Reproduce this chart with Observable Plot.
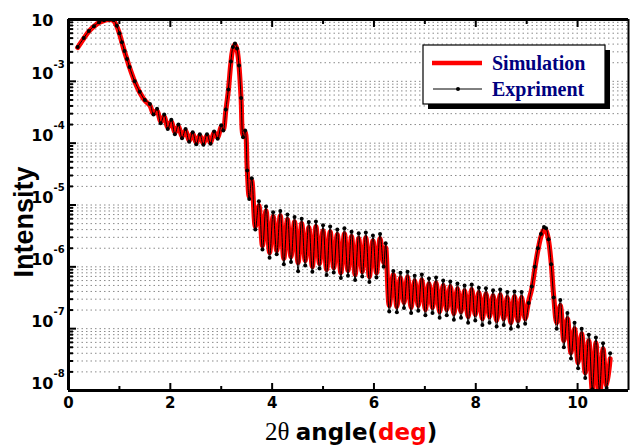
<!DOCTYPE html>
<html><head><meta charset="utf-8">
<script src="https://cdn.jsdelivr.net/npm/d3@7"></script>
<script src="https://cdn.jsdelivr.net/npm/@observablehq/plot@0.6"></script>
<style>body{margin:0;background:#fff} svg{display:block}</style>
</head><body><div id="chart"></div>
<script>
// 2θ angle (deg)
const angle = [0.18,0.3,0.4,0.5,0.6,0.7,0.8,0.88,0.95,1.0,1.05,1.1,1.15,1.2,1.3,1.4,1.5,1.6,1.67,1.74,1.81,1.88,1.95,2.02,2.09,2.16,2.23,2.3,2.37,2.44,2.51,2.58,2.65,2.72,2.79,2.86,2.93,3.0,3.04,3.09,3.14,3.19,3.23,3.27,3.31,3.35,3.39,3.43,3.47,3.51,3.55,3.6,3.67,
3.74,3.81,3.88,3.95,4.02,4.09,4.16,4.23,4.3,4.37,4.44,4.51,4.58,4.65,4.72,4.79,4.86,4.93,5.0,5.07,5.14,5.21,5.28,5.35,5.42,5.49,5.56,5.63,5.7,5.77,5.84,5.91,5.98,6.05,6.12,6.19,6.23,6.3,6.38,
6.45,6.52,6.59,6.66,6.73,6.8,6.87,6.94,7.01,7.08,7.15,7.22,7.29,7.36,7.43,7.5,7.57,7.64,7.71,7.78,7.85,7.92,7.99,8.06,8.13,8.2,8.27,8.34,8.41,8.48,8.55,8.62,8.69,8.76,8.83,8.9,8.97,
9.04,9.1,9.16,9.22,9.28,9.34,9.38,9.43,9.48,9.53,9.59,
9.66,9.73,9.8,9.87,9.94,10.01,10.08,10.15,10.22,10.29,10.36,10.43,10.5,10.57,10.64];

const simulation = [3.52e-3,4.93e-3,6.40e-3,7.71e-3,8.94e-3,9.63e-3,1.0e-2,9.6e-3,7.7e-3,5.94e-3,4.25e-3,3.03e-3,2.25e-3,1.67e-3,9.93e-4,6.59e-4,4.89e-4,4.06e-4,3.01e-4,3.37e-4,2.24e-4,2.69e-4,1.79e-4,2.24e-4,1.49e-4,1.86e-4,1.28e-4,1.60e-4,1.10e-4,1.43e-4,1.02e-4,1.33e-4,9.86e-5,1.33e-4,1.02e-4,1.49e-4,1.23e-4,1.86e-4,1.66e-4,3.37e-4,7.10e-4,2.01e-3,3.40e-3,3.94e-3,3.27e-3,1.74e-3,5.27e-4,1.33e-4,1.54e-4,3.88e-5,1.37e-5,2.48e-5,4.47e-6,
9.77e-6,2.20e-6,8.11e-6,1.70e-6,6.49e-6,1.83e-6,6.73e-6,1.36e-6,5.81e-6,1.46e-6,5.38e-6,1.17e-6,5.00e-6,1.26e-6,4.31e-6,1.01e-6,4.47e-6,1.13e-6,3.85e-6,9.02e-7,3.71e-6,9.70e-7,3.32e-6,8.05e-7,3.44e-6,8.69e-7,3.08e-6,7.48e-7,2.86e-6,8.36e-7,2.96e-6,6.94e-7,2.65e-6,8.05e-7,2.86e-6,1.17e-6,2.05e-6,2.36e-7,7.48e-7,
2.27e-7,6.68e-7,2.64e-7,6.94e-7,2.19e-7,5.98e-7,2.36e-7,6.21e-7,2.03e-7,5.35e-7,2.19e-7,5.55e-7,1.88e-7,4.97e-7,2.03e-7,4.79e-7,1.75e-7,4.44e-7,1.88e-7,4.12e-7,1.56e-7,4.28e-7,1.69e-7,3.83e-7,1.45e-7,3.68e-7,1.56e-7,3.42e-7,1.35e-7,3.55e-7,1.45e-7,3.18e-7,1.25e-7,3.30e-7,1.35e-7,3.18e-7,1.45e-7,
2.84e-7,4.44e-7,9.35e-7,1.83e-6,3.08e-6,4.00e-6,3.85e-6,2.65e-6,1.17e-6,3.42e-7,1.25e-7,
2.36e-7,6.40e-8,1.45e-7,4.09e-8,1.0e-7,2.82e-8,8.30e-8,1.94e-8,6.40e-8,9.9e-9,5.93e-8,6e-9,4.74e-8,1.20e-8,3.27e-8];

const experiment = [3.6e-3,5.0e-3,6.5e-3,7.8e-3,9.0e-3,9.7e-3,1.0e-2,9.8e-3,7.9e-3,6.0e-3,4.3e-3,3.1e-3,2.3e-3,1.7e-3,1.0e-3,6.8e-4,5.0e-4,4.3e-4,2.9e-4,3.6e-4,2.1e-4,2.9e-4,1.7e-4,2.4e-4,1.4e-4,2.0e-4,1.2e-4,1.7e-4,1.05e-4,1.5e-4,9.6e-5,1.4e-4,9.4e-5,1.4e-4,9.8e-5,1.55e-4,1.18e-4,1.95e-4,1.6e-4,3.5e-4,7.4e-4,2.1e-3,3.6e-3,4.1e-3,3.4e-3,1.8e-3,5.4e-4,1.25e-4,1.6e-4,3.6e-5,1.25e-5,2.7e-5,4.0e-6,
1.15e-5,1.9e-6,9.5e-6,1.4e-6,7.6e-6,1.6e-6,8.0e-6,1.1e-6,7.0e-6,1.2e-6,6.4e-6,8.5e-7,6.0e-6,1.05e-6,5.3e-6,8.3e-7,5.4e-6,9.4e-7,4.7e-6,7.4e-7,4.5e-6,8.1e-7,4.0e-6,6.6e-7,4.2e-6,7.2e-7,3.7e-6,6.1e-7,3.5e-6,7.0e-7,3.6e-6,5.7e-7,3.2e-6,6.7e-7,3.4e-6,1.0e-6,2.4e-6,1.9e-7,8.6e-7,
1.85e-7,8.0e-7,2.15e-7,8.3e-7,1.8e-7,7.2e-7,1.95e-7,7.5e-7,1.65e-7,6.5e-7,1.8e-7,6.7e-7,1.5e-7,6.0e-7,1.65e-7,5.8e-7,1.4e-7,5.4e-7,1.5e-7,5.0e-7,1.25e-7,5.2e-7,1.35e-7,4.6e-7,1.15e-7,4.5e-7,1.25e-7,4.2e-7,1.08e-7,4.3e-7,1.15e-7,3.9e-7,1.0e-7,4.0e-7,1.08e-7,3.9e-7,1.2e-7,
2.6e-7,4.8e-7,1.0e-6,2.0e-6,3.4e-6,4.4e-6,4.2e-6,2.8e-6,1.1e-6,3.2e-7,1.0e-7,
2.9e-7,5.0e-8,1.8e-7,3.3e-8,1.25e-7,2.3e-8,1.0e-7,1.6e-8,8.0e-8,1.05e-8,7.2e-8,1.0e-8,5.8e-8,1.1e-8,4.0e-8];

const seriesNames = ["Simulation", "Expriment"];
const xMajorTicks = [0, 2, 4, 6, 8, 10];
const xMinorTicks = [1, 3, 5, 7, 9];
const xTickLabels = ["0", "2", "4", "6", "8", "10"];
const yMajorTicks = [1e-8, 1e-7, 1e-6, 1e-5, 1e-4, 1e-3, 1e-2];
const yLowerTicks = [1e-8, 1e-7, 1e-6, 1e-5, 1e-4, 1e-3];
const yTickExp = ["-8", "-7", "-6", "-5", "-4", "-3"];
const yTopTick = [1e-2];
const yTickBase = "10";

const data = angle.map((x, i) => ({x, sim: simulation[i], exp: experiment[i]}));
const yMinorTicks = [];
for (const m of yLowerTicks) for (let k = 2; k <= 9; k++) yMinorTicks.push(m * k);
const yGrid = yMinorTicks.concat(yLowerTicks.slice(1));

const labelFont = "'DejaVu Sans', Verdana, sans-serif";
const chart = Plot.plot({
  width: 631, height: 446,
  marginLeft: 68, marginRight: 3, marginTop: 19, marginBottom: 56,
  x: {domain: [0, 11], axis: null, label: null},
  y: {type: "log", domain: [1e-8, 1e-2], axis: null, label: null},
  style: {background: "white", color: "black"},
  marks: [
    Plot.ruleY(yGrid, {y: d => d, stroke: "#8a8a8a", strokeWidth: 1, strokeDasharray: "1.5,3"}),
    Plot.line(data, {x: "x", y: "sim", stroke: "#ff0000", strokeWidth: 5, curve: "catmull-rom", clip: true}),
    Plot.line(data, {x: "x", y: "exp", stroke: "black", strokeWidth: 1, curve: "catmull-rom", clip: true}),
    Plot.dot(data, {x: "x", y: "exp", r: 2, fill: "black", stroke: "none", clip: true}),
    // frame lines
    Plot.ruleY([1e-8], {stroke: "black", strokeWidth: 3}),
    Plot.ruleY([1e-2], {stroke: "black", strokeWidth: 3}),
    Plot.ruleX([0], {stroke: "black", strokeWidth: 3}),
    Plot.ruleX([11], {stroke: "black", strokeWidth: 2}),
    // inward ticks
    Plot.axisX(xMajorTicks, {anchor: "bottom", tickSize: -7, strokeWidth: 2, fill: "none", tickFormat: () => "", label: null}),
    Plot.axisX(xMinorTicks, {anchor: "bottom", tickSize: -4, strokeWidth: 2, fill: "none", tickFormat: () => "", label: null}),
    Plot.axisX(xMajorTicks, {anchor: "top", tickSize: -7, strokeWidth: 2, fill: "none", tickFormat: () => "", label: null}),
    Plot.axisX(xMinorTicks, {anchor: "top", tickSize: -4, strokeWidth: 2, fill: "none", tickFormat: () => "", label: null}),
    Plot.axisY(yMajorTicks, {anchor: "left", tickSize: -8, strokeWidth: 2, fill: "none", tickFormat: () => "", label: null}),
    Plot.axisY(yMinorTicks, {anchor: "left", tickSize: -5, strokeWidth: 2, fill: "none", tickFormat: () => "", label: null}),
    // tick labels
    Plot.text(xMajorTicks, {x: d => d, text: (d, i) => xTickLabels[i], frameAnchor: "bottom", dy: 17,
      fontFamily: labelFont, fontWeight: "bold", fontSize: 15, fill: "black"}),
    Plot.text(yLowerTicks, {y: d => d, text: () => yTickBase, frameAnchor: "left", textAnchor: "end",
      dx: -15, dy: -7, fontFamily: labelFont, fontWeight: "bold", fontSize: 16, fill: "black"}),
    Plot.text(yTopTick, {y: d => d, text: () => yTickBase, frameAnchor: "left", textAnchor: "end",
      dx: -15, dy: 1, fontFamily: labelFont, fontWeight: "bold", fontSize: 16, fill: "black"}),
    Plot.text(yLowerTicks, {y: d => d, text: (d, i) => yTickExp[i], frameAnchor: "left", textAnchor: "start",
      dx: -15, dy: -17, fontFamily: labelFont, fontWeight: "bold", fontSize: 10, fill: "black"})
  ]
});
document.getElementById("chart").appendChild(chart);

const svg = d3.select(chart);

// y-axis title
svg.append("text")
  .attr("transform", "translate(33,222) rotate(-90)")
  .attr("text-anchor", "middle")
  .attr("font-family", "'Liberation Sans', Arial, sans-serif")
  .attr("font-weight", "bold").attr("font-size", 27).attr("fill", "black")
  .text("Intensity");

// x-axis title
const xt = svg.append("text").attr("x", 265).attr("y", 440).attr("fill", "black").attr("text-anchor", "start");
xt.append("tspan").attr("font-family", "'Liberation Serif', 'Times New Roman', serif").attr("font-size", 25).text("2θ ");
xt.append("tspan").attr("font-family", labelFont).attr("font-weight", "bold").attr("font-size", 23).text("angle(");
xt.append("tspan").attr("font-family", labelFont).attr("font-weight", "bold").attr("font-size", 23).attr("fill", "#ff0000").text("deg");
xt.append("tspan").attr("font-family", labelFont).attr("font-weight", "bold").attr("font-size", 23).text(")");

// legend
const lg = svg.append("g").attr("text-anchor", "start");
lg.append("rect").attr("x", 428).attr("y", 50).attr("width", 182).attr("height", 59).attr("fill", "black");
lg.append("rect").attr("x", 423).attr("y", 45).attr("width", 182).attr("height", 59).attr("fill", "white").attr("stroke", "black").attr("stroke-width", 1.2);
lg.append("line").attr("x1", 432).attr("x2", 482).attr("y1", 63).attr("y2", 63).attr("stroke", "#ff0000").attr("stroke-width", 4.5);
lg.append("line").attr("x1", 433).attr("x2", 482).attr("y1", 89).attr("y2", 89).attr("stroke", "black").attr("stroke-width", 1);
lg.append("circle").attr("cx", 458).attr("cy", 89).attr("r", 2).attr("fill", "black");
seriesNames.forEach((name, i) => {
  lg.append("text").attr("x", 492).attr("y", 70 + 26 * i).attr("text-anchor", "start")
    .attr("font-family", "'Liberation Serif', 'Times New Roman', serif")
    .attr("font-weight", "bold").attr("font-size", 20).attr("fill", "#000080")
    .text(name);
});
</script></body></html>
